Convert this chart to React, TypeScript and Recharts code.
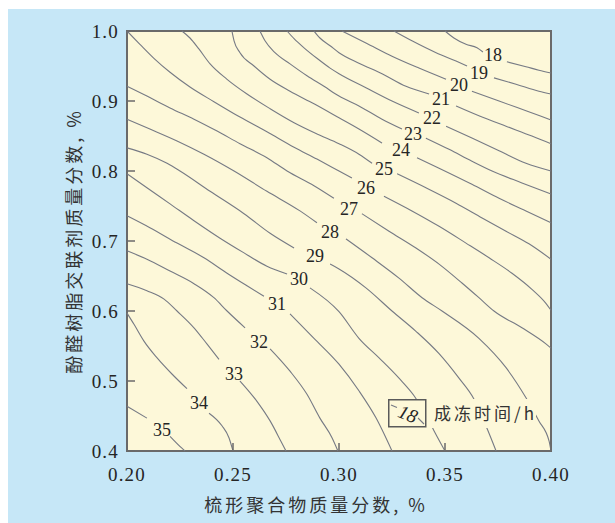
import React from 'react';
import {
  LineChart,
  Line,
  XAxis,
  YAxis,
  CartesianGrid,
  ReferenceArea,
  ReferenceDot,
  Legend,
} from 'recharts';

type Pt = [number, number];

// contour segments [comb polymer %, resin %]; each level is split where its label sits
const c18a: Pt[] = [[0.3500, 1.000], [0.3542, 0.990], [0.3599, 0.981], [0.3651, 0.976], [0.3679, 0.970]];
const c18b: Pt[] = [[0.3792, 0.956], [0.3882, 0.949], [0.3943, 0.944], [0.4000, 0.940]];
const c19a: Pt[] = [[0.3259, 1.000], [0.3344, 0.986], [0.3458, 0.969], [0.3552, 0.957], [0.3604, 0.950]];
const c19b: Pt[] = [[0.3731, 0.933], [0.3835, 0.924], [0.3943, 0.914], [0.4000, 0.910]];
const c20a: Pt[] = [[0.3014, 1.000], [0.3127, 0.983], [0.3250, 0.964], [0.3377, 0.947], [0.3505, 0.931]];
const c20b: Pt[] = [[0.3627, 0.914], [0.3755, 0.900], [0.3882, 0.886], [0.4000, 0.873]];
const c21a: Pt[] = [[0.2882, 1.000], [0.2910, 0.990], [0.2958, 0.979], [0.3000, 0.969], [0.3094, 0.954], [0.3203, 0.939], [0.3316, 0.921], [0.3425, 0.910]];
const c21b: Pt[] = [[0.3552, 0.893], [0.3660, 0.879], [0.3788, 0.864], [0.3910, 0.850], [0.4000, 0.839]];
const c22a: Pt[] = [[0.2755, 1.000], [0.2788, 0.989], [0.2835, 0.976], [0.2896, 0.961], [0.2958, 0.947], [0.3000, 0.939], [0.3127, 0.919], [0.3250, 0.900], [0.3377, 0.883]];
const c22b: Pt[] = [[0.3505, 0.864], [0.3627, 0.847], [0.3755, 0.829], [0.3882, 0.811], [0.4000, 0.800]];
const c23a: Pt[] = [[0.2627, 1.000], [0.2651, 0.986], [0.2698, 0.969], [0.2769, 0.953], [0.2849, 0.936], [0.2929, 0.921], [0.3000, 0.907], [0.3094, 0.893], [0.3203, 0.874], [0.3297, 0.860]];
const c23b: Pt[] = [[0.3410, 0.847], [0.3519, 0.831], [0.3627, 0.814], [0.3722, 0.800], [0.3863, 0.783], [0.4000, 0.767]];
const c24a: Pt[] = [[0.2495, 1.000], [0.2505, 0.986], [0.2533, 0.969], [0.2599, 0.950], [0.2675, 0.931], [0.2769, 0.914], [0.2882, 0.896], [0.3000, 0.876], [0.3094, 0.860], [0.3203, 0.840]];
const c24b: Pt[] = [[0.3368, 0.819], [0.3472, 0.804], [0.3627, 0.781], [0.3755, 0.761], [0.3882, 0.743], [0.4000, 0.726]];
const c25a: Pt[] = [[0.2259, 1.000], [0.2297, 0.990], [0.2340, 0.974], [0.2392, 0.953], [0.2472, 0.931], [0.2566, 0.910], [0.2675, 0.889], [0.2788, 0.869], [0.2896, 0.853], [0.3000, 0.839], [0.3094, 0.824], [0.3156, 0.811]];
const c25b: Pt[] = [[0.3274, 0.796], [0.3410, 0.776], [0.3552, 0.754], [0.3675, 0.733], [0.3788, 0.714], [0.3896, 0.696], [0.4000, 0.674]];
const c26a: Pt[] = [[0.2000, 1.000], [0.2061, 0.981], [0.2127, 0.961], [0.2203, 0.941], [0.2297, 0.920], [0.2410, 0.899], [0.2533, 0.877], [0.2660, 0.856], [0.2788, 0.834], [0.2896, 0.817], [0.3000, 0.800], [0.3061, 0.790]];
const c26b: Pt[] = [[0.3212, 0.764], [0.3344, 0.743], [0.3472, 0.721], [0.3599, 0.697], [0.3708, 0.676], [0.3816, 0.654], [0.3910, 0.631], [0.3976, 0.611], [0.4000, 0.601]];
const c27a: Pt[] = [[0.2000, 0.921], [0.2094, 0.907], [0.2203, 0.890], [0.2316, 0.874], [0.2425, 0.857], [0.2533, 0.839], [0.2660, 0.819], [0.2755, 0.800], [0.2882, 0.779], [0.2976, 0.761]];
const c27b: Pt[] = [[0.3108, 0.739], [0.3236, 0.714], [0.3363, 0.690], [0.3472, 0.667], [0.3580, 0.640], [0.3660, 0.619], [0.3731, 0.600], [0.3863, 0.576], [0.3976, 0.553], [0.4000, 0.547]];
const c28a: Pt[] = [[0.2000, 0.874], [0.2108, 0.860], [0.2236, 0.843], [0.2363, 0.824], [0.2505, 0.800], [0.2660, 0.771], [0.2816, 0.743], [0.2896, 0.726]];
const c28b: Pt[] = [[0.3033, 0.703], [0.3156, 0.676], [0.3283, 0.647], [0.3392, 0.619], [0.3486, 0.600], [0.3660, 0.561], [0.3788, 0.519], [0.3882, 0.476], [0.3943, 0.443], [0.3991, 0.414], [0.4000, 0.400]];
const c29a: Pt[] = [[0.2000, 0.833], [0.2094, 0.824], [0.2189, 0.811], [0.2250, 0.800], [0.2392, 0.771], [0.2552, 0.739], [0.2675, 0.711], [0.2788, 0.690]];
const c29b: Pt[] = [[0.2958, 0.667], [0.3000, 0.660], [0.3127, 0.633], [0.3250, 0.600], [0.3363, 0.571], [0.3472, 0.539], [0.3566, 0.504], [0.3637, 0.474], [0.3693, 0.436], [0.3741, 0.400]];
const c30a: Pt[] = [[0.2000, 0.796], [0.2094, 0.776], [0.2203, 0.753], [0.2316, 0.729], [0.2439, 0.704], [0.2552, 0.683], [0.2660, 0.664], [0.2755, 0.653]];
const c30b: Pt[] = [[0.2863, 0.633], [0.3000, 0.599], [0.3094, 0.561], [0.3189, 0.533], [0.3283, 0.504], [0.3354, 0.479], [0.3406, 0.454], [0.3448, 0.429], [0.3500, 0.400]];
const c31a: Pt[] = [[0.2000, 0.736], [0.2108, 0.719], [0.2236, 0.697], [0.2363, 0.676], [0.2472, 0.654], [0.2566, 0.636], [0.2646, 0.621]];
const c31b: Pt[] = [[0.2769, 0.596], [0.2882, 0.561], [0.3000, 0.524], [0.3094, 0.486], [0.3175, 0.447], [0.3250, 0.400]];
const c32a: Pt[] = [[0.2000, 0.686], [0.2094, 0.674], [0.2203, 0.657], [0.2316, 0.639], [0.2410, 0.619], [0.2472, 0.600], [0.2557, 0.576]];
const c32b: Pt[] = [[0.2675, 0.546], [0.2769, 0.514], [0.2849, 0.481], [0.2910, 0.447], [0.2967, 0.419], [0.2995, 0.400]];
const c33a: Pt[] = [[0.2000, 0.639], [0.2094, 0.629], [0.2175, 0.617], [0.2236, 0.600], [0.2316, 0.576], [0.2377, 0.553], [0.2434, 0.531]];
const c33b: Pt[] = [[0.2533, 0.500], [0.2613, 0.471], [0.2675, 0.443], [0.2726, 0.414], [0.2750, 0.400]];
const c34a: Pt[] = [[0.2000, 0.597], [0.2033, 0.581], [0.2080, 0.557], [0.2142, 0.533], [0.2212, 0.510], [0.2283, 0.489]];
const c34b: Pt[] = [[0.2387, 0.454], [0.2448, 0.436], [0.2481, 0.419], [0.2500, 0.400]];
const c35a: Pt[] = [[0.2000, 0.464], [0.2094, 0.447]];
const c35b: Pt[] = [[0.2203, 0.421], [0.2259, 0.404], [0.2274, 0.400]];

// gel time levels (h) and where each label is written
const levels = [18, 19, 20, 21, 22, 23, 24, 25, 26, 27, 28, 29, 30, 31, 32, 33, 34, 35];
const labelX = [0.3726, 0.3660, 0.3566, 0.3481, 0.3439, 0.3349, 0.3292, 0.3212, 0.3127, 0.3047, 0.2958, 0.2887, 0.2811, 0.2708, 0.2623, 0.2505, 0.2340, 0.2165];
const labelY = [0.966, 0.940, 0.923, 0.903, 0.876, 0.853, 0.830, 0.804, 0.776, 0.746, 0.714, 0.679, 0.646, 0.610, 0.556, 0.511, 0.469, 0.431];

const xTicks = [0.2, 0.25, 0.3, 0.35, 0.4];
const yTicks = [0.4, 0.5, 0.6, 0.7, 0.8, 0.9, 1.0];

const segments: Pt[][] = [
  c18a, c18b, c19a, c19b, c20a, c20b, c21a, c21b, c22a, c22b, c23a, c23b,
  c24a, c24b, c25a, c25b, c26a, c26b, c27a, c27b, c28a, c28b, c29a, c29b,
  c30a, c30b, c31a, c31b, c32a, c32b, c33a, c33b, c34a, c34b, c35a, c35b,
];

const BG = '#c6e7f7';
const CREAM = '#fdf8d9';
const LINE = '#767a84';
const FRAME = '#6a6a6a';
const TEXT = '#252525';
const SERIF = "'Liberation Serif', 'DejaVu Serif', serif";
const CJK = "'Noto Sans CJK SC', sans-serif";

const toRows = (pts: Pt[]) => pts.map(([x, y]) => ({ x, y }));

const LegendKey = () => (
  <svg width={150} height={30} style={{ display: 'block' }}>
    <rect x={0} y={0} width={148} height={29} fill={CREAM} />
    <rect x={0.75} y={0.75} width={37} height={27} fill="none" stroke="#5a5a5a" strokeWidth={1.5} />
    <line x1={3} y1={6} x2={9} y2={8.5} stroke={LINE} strokeWidth={1.1} />
    <text
      x={20}
      y={15}
      transform="rotate(22 20 15)"
      textAnchor="middle"
      dominantBaseline="central"
      fontFamily={SERIF}
      fontStyle="italic"
      fontSize={19}
      fill={TEXT}
    >
      18
    </text>
    <line x1={30} y1={19} x2={36} y2={25} stroke={LINE} strokeWidth={1.1} />
    <text x={46} y={21} fontFamily={CJK} fontSize={17} letterSpacing={3} fill="#333">
      成冻时间/h
    </text>
  </svg>
);

const YTitle = (props: any) => {
  const { viewBox } = props;
  const cx = viewBox.x + 65;
  const cy = viewBox.y + viewBox.height / 2;
  return (
    <text
      x={cx}
      y={cy}
      transform={`rotate(-90 ${cx} ${cy})`}
      textAnchor="middle"
      dominantBaseline="central"
      fontFamily={CJK}
      fontSize={18}
      letterSpacing={3}
      fill="#333"
    >
      酚醛树脂交联剂质量分数, %
    </text>
  );
};

const XTitle = (props: any) => {
  const { viewBox } = props;
  const cx = viewBox.x + viewBox.width / 2 - 23;
  const cy = viewBox.y + 53;
  return (
    <text
      x={cx}
      y={cy}
      textAnchor="middle"
      dominantBaseline="central"
      fontFamily={CJK}
      fontSize={18}
      letterSpacing={3}
      fill="#333"
    >
      梳形聚合物质量分数, %
    </text>
  );
};

// serif tick numbers; x ticks hang below their position, y ticks are centred on it
const XTick = ({ x, y, payload }: any) => (
  <text x={x} y={y} dy="0.72em" textAnchor="middle" fontFamily={SERIF} fontSize={19} letterSpacing={1.2} fill={TEXT}>
    {Number(payload.value).toFixed(2)}
  </text>
);

const YTick = ({ x, y, payload }: any) => (
  <text x={x} y={y} dy="0.36em" textAnchor="end" fontFamily={SERIF} fontSize={19} letterSpacing={1.2} fill={TEXT}>
    {Number(payload.value).toFixed(1)}
  </text>
);

const LevelLabel = (value: number) => (props: any) => {
  const { viewBox } = props;
  return (
    <text
      x={viewBox.x + viewBox.width / 2}
      y={viewBox.y + viewBox.height / 2}
      dy="0.36em"
      textAnchor="middle"
      fontFamily={SERIF}
      fontSize={18}
      fill={TEXT}
    >
      {value}
    </text>
  );
};

export default function App() {
  return (
    <div style={{ position: 'absolute', left: 8, top: 9, width: 607, height: 514, background: BG }}>
      <LineChart width={607} height={514} margin={{ top: 22, right: 64, bottom: 0, left: 0 }}>
        <CartesianGrid fill={CREAM} stroke="none" horizontal={false} vertical={false} />
        <XAxis
          dataKey="x"
          type="number"
          domain={[0.2, 0.4]}
          ticks={xTicks}
          interval={0}
          height={72}
          axisLine={false}
          tickSize={-8}
          tickMargin={24}
          tickLine={{ stroke: FRAME, strokeWidth: 1.5 }}
          tick={<XTick />}
          label={{ content: XTitle }}
        />
        <YAxis
          type="number"
          domain={[0.4, 1.0]}
          ticks={yTicks}
          interval={0}
          width={119}
          axisLine={false}
          tickSize={-8}
          tickMargin={16}
          tickLine={{ stroke: FRAME, strokeWidth: 1.5 }}
          tick={<YTick />}
          label={{ content: YTitle }}
        />
        {segments.map((seg, i) => (
          <Line
            key={i}
            data={toRows(seg)}
            dataKey="y"
            type="monotone"
            stroke={LINE}
            strokeWidth={1.1}
            dot={false}
            activeDot={false}
            isAnimationActive={false}
          />
        ))}
        {levels.map((lv, i) => (
          <ReferenceDot
            key={lv}
            x={labelX[i]}
            y={labelY[i]}
            r={0}
            fill="none"
            stroke="none"
            label={{ content: LevelLabel(lv) }}
          />
        ))}
        <ReferenceArea x1={0.2} x2={0.4} y1={0.4} y2={1.0} fill="none" stroke={FRAME} strokeWidth={2} />
        <Legend
          layout="vertical"
          align="center"
          verticalAlign="middle"
          content={() => <LegendKey />}
          wrapperStyle={{ left: 380, top: 390, width: 150, height: 30 }}
        />
      </LineChart>
    </div>
  );
}
